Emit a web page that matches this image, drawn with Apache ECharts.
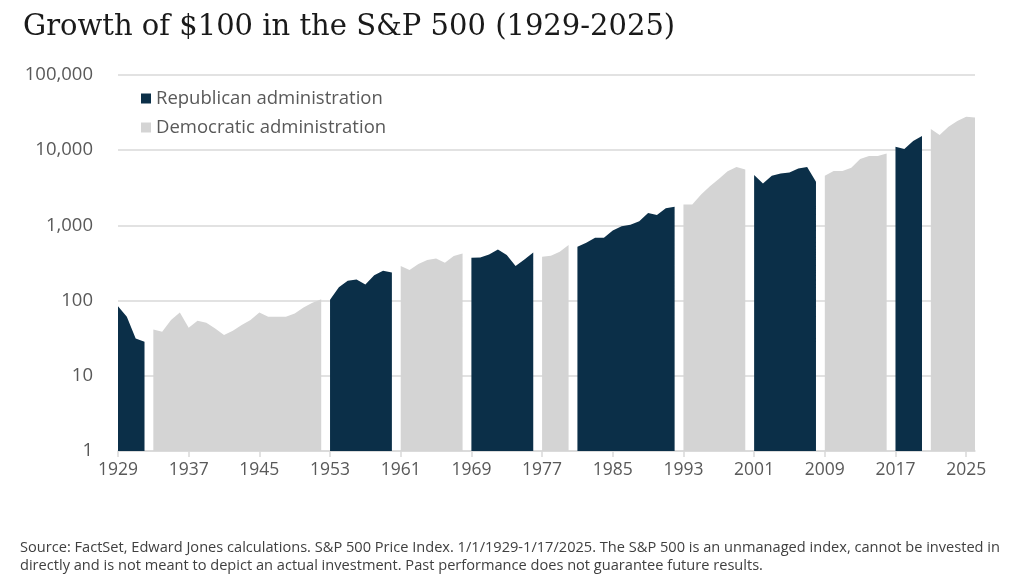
<!DOCTYPE html>
<html>
<head>
<meta charset="utf-8">
<script src="https://cdn.jsdelivr.net/npm/echarts@6/dist/echarts.min.js"></script>
<style>
html,body{margin:0;padding:0;background:#fff;}
#chart{width:1024px;height:585px;}
</style>
</head>
<body>
<div id="chart"></div>
<script>
// Years (annual points), 1929..2026
const years = [];
for (let y = 1929; y <= 2026; y++) years.push(String(y));

// Republican administrations: [startYear, values...]
const repSegments = [
  [1929, [84, 61, 31.4, 28.3]],
  [1953, [103, 150, 183, 191, 164, 218, 249, 237]],
  [1969, [371, 375, 409, 477, 403, 288, 353, 437]],
  [1981, [521, 589, 687, 687, 853, 975, 1017, 1135, 1466, 1380, 1692, 1767]],
  [2001, [4666, 3615, 4570, 4913, 5070, 5730, 5960, 3800]],
  [2017, [11090, 10350, 13210, 15410]]
];
// Democratic administrations
const demSegments = [
  [1933, [41.4, 38.5, 55, 69.7, 43.5, 54, 50.7, 42.6, 34.8, 39.7, 47.2, 55, 69.7, 61, 61, 61, 67.6, 81, 93.5, 104]],
  [1961, [288, 255, 306, 346, 364, 318, 391, 424]],
  [1977, [383, 394, 446, 548]],
  [1993, [1892, 1892, 2570, 3313, 4150, 5240, 5990, 5520]],
  [2009, [4570, 5270, 5270, 5835, 7620, 8350, 8400, 9060]],
  [2021, [19090, 15880, 20460, 24380, 27800, 27300]]
];

const yTickLabels = {1: '1', 10: '10', 100: '100', 1000: '1,000', 10000: '10,000', 100000: '100,000'};

function buildSeries(segments) {
  const arr = years.map(() => null);
  segments.forEach(([start, vals]) => {
    vals.forEach((v, i) => { arr[start - 1929 + i] = v; });
  });
  return arr;
}
const repData = buildSeries(repSegments);
const demData = buildSeries(demSegments);

const NAVY = '#0b2f48';
const GRAY = '#d4d4d4';
const SANS = 'Open Sans';

const chart = echarts.init(document.getElementById('chart'), null, {renderer: 'canvas'});
chart.setOption({
  animation: false,
  backgroundColor: '#ffffff',
  title: {
    text: 'Growth of $100 in the S&P 500 (1929-2025)',
    left: 18, top: 8,
    textStyle: {fontFamily: 'DejaVu Serif', fontSize: 29, fontWeight: 'normal', color: '#1a1a1a'}
  },
  legend: {
    orient: 'vertical',
    left: 136, top: 84,
    itemWidth: 10, itemHeight: 10, itemGap: 10,
    icon: 'rect',
    textStyle: {fontFamily: SANS, fontSize: 18.5, color: '#595959'},
    data: ['Republican administration', 'Democratic administration']
  },
  grid: {left: 118, right: 49, top: 75, bottom: 134, containLabel: false},
  xAxis: {
    type: 'category',
    data: years,
    boundaryGap: false,
    axisLine: {show: true, lineStyle: {color: '#d9d9d9', width: 1.5}},
    axisTick: {show: true, interval: 7, length: 6, lineStyle: {color: '#d9d9d9', width: 1.5}},
    axisLabel: {interval: 7, margin: 10, fontFamily: SANS, fontSize: 17.5, color: '#595959'},
    splitLine: {show: false}
  },
  yAxis: {
    type: 'log',
    logBase: 10,
    min: 1, max: 100000,
    axisLine: {show: false},
    axisTick: {show: false},
    axisLabel: {
      margin: 25, fontFamily: SANS, fontSize: 18.5, color: '#595959',
      formatter: v => yTickLabels[Math.round(v)] || ''
    },
    splitLine: {show: true, lineStyle: {color: '#d9d9d9', width: 1.5}}
  },
  series: [
    {
      name: 'Republican administration',
      type: 'line',
      data: repData,
      connectNulls: false,
      showSymbol: false,
      symbol: 'none',
      lineStyle: {width: 0, color: NAVY},
      itemStyle: {color: NAVY},
      areaStyle: {color: NAVY, opacity: 1, origin: 'start'},
      z: 3
    },
    {
      name: 'Democratic administration',
      type: 'line',
      data: demData,
      connectNulls: false,
      showSymbol: false,
      symbol: 'none',
      lineStyle: {width: 0, color: GRAY},
      itemStyle: {color: GRAY},
      areaStyle: {color: GRAY, opacity: 1, origin: 'start'},
      z: 3
    }
  ],
  graphic: [
    {
      type: 'text', left: 20, top: 539,
      style: {
        text: 'Source: FactSet, Edward Jones calculations. S&P 500 Price Index. 1/1/1929-1/17/2025. The S&P 500 is an unmanaged index, cannot be invested in\ndirectly and is not meant to depict an actual investment. Past performance does not guarantee future results.',
        fontFamily: SANS, fontSize: 14.6, lineHeight: 18, fill: '#404040'
      }
    }
  ]
});
</script>
</body>
</html>
